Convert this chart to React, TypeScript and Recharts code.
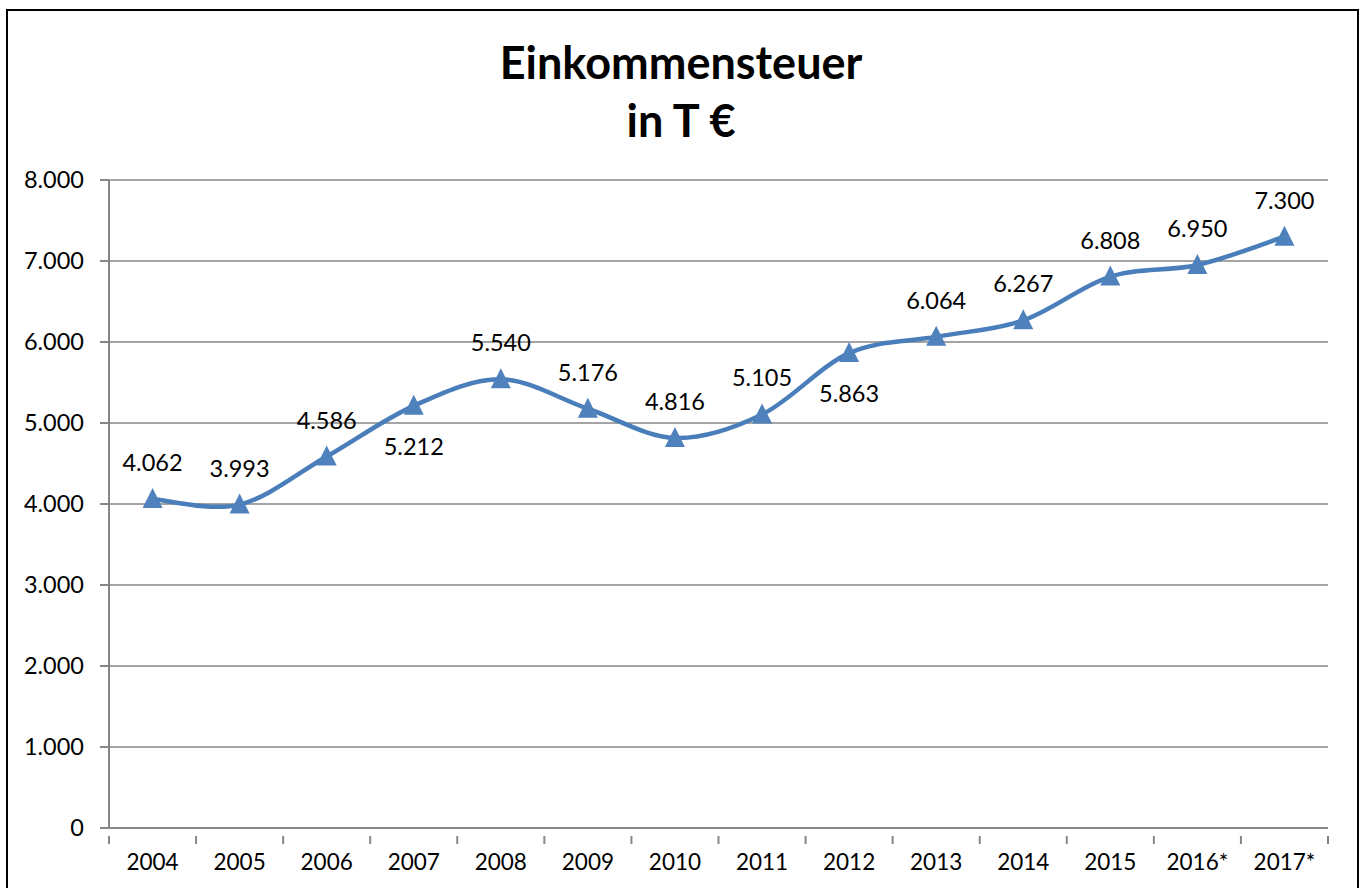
import * as React from "react";
import { LineChart, Line, XAxis, YAxis, CartesianGrid, LabelList } from "recharts";

const years = ["2004", "2005", "2006", "2007", "2008", "2009", "2010", "2011", "2012", "2013", "2014", "2015", "2016*", "2017*"];
const incomeTax = [4062, 3993, 4586, 5212, 5540, 5176, 4816, 5105, 5863, 6064, 6267, 6808, 6950, 7300];
const yTicks = [0, 1000, 2000, 3000, 4000, 5000, 6000, 7000, 8000];
// labels Excel placed under the point
const labelsBelow = [3, 8];

const data = years.map((year, idx) => ({ idx, year, value: incomeTax[idx] }));

const FONT = "Lato, 'Open Sans', sans-serif";
const LINE_COLOR = "#4A7EBB";
const MARKER_COLOR = "#4F81BD";
const GRID_COLOR = "#868686";

const fmt = (v: number) => String(Math.round(v)).replace(/\B(?=(\d{3})+(?!\d))/g, ".");

// Excel-style smoothing (Catmull-Rom as cubic beziers)
function excelSmooth(context: any) {
    let pts: [number, number][] = [];
    return {
        areaStart() {},
        areaEnd() {},
        lineStart() {
            pts = [];
        },
        point(x: number, y: number) {
            pts.push([+x, +y]);
        },
        lineEnd() {
            if (!pts.length) return;
            context.moveTo(pts[0][0], pts[0][1]);
            for (let i = 0; i < pts.length - 1; i++) {
                const p0 = pts[i - 1] || pts[i];
                const p1 = pts[i];
                const p2 = pts[i + 1];
                const p3 = pts[i + 2] || pts[i + 1];
                context.bezierCurveTo(
                    p1[0] + (p2[0] - p0[0]) / 6,
                    p1[1] + (p2[1] - p0[1]) / 6,
                    p2[0] - (p3[0] - p1[0]) / 6,
                    p2[1] - (p3[1] - p1[1]) / 6,
                    p2[0],
                    p2[1]
                );
            }
        },
    };
}

const TriangleDot = (props: any) => {
    const { cx, cy, index } = props;
    if (cx == null || cy == null) return null;
    return (
        <polygon
            key={`tri-${index}`}
            points={`${cx},${cy - 11} ${cx - 10},${cy + 9} ${cx + 10},${cy + 9}`}
            fill={MARKER_COLOR}
        />
    );
};

const ValueLabel = (props: any) => {
    const { x, y, value, index } = props;
    const below = labelsBelow.includes(index);
    return (
        <text
            x={x}
            y={below ? y + 40 : y - 37}
            textAnchor="middle"
            dominantBaseline="central"
            fontFamily={FONT}
            fontSize={23.5}
            fill="#000"
        >
            {fmt(value)}
        </text>
    );
};

const XTick = (props: any) => {
    const { x, y, payload } = props;
    const v = payload.value as number;
    if (Number.isInteger(v)) {
        return (
            <text x={x} y={y + 25} textAnchor="middle" dominantBaseline="central" fontFamily={FONT} fontSize={22.5} fill="#000">
                {years[v]}
            </text>
        );
    }
    return <line x1={x} x2={x} y1={y} y2={y + 8} stroke={GRID_COLOR} strokeWidth={2} />;
};

const xTicks = [...years.map((_, i) => i - 0.5), years.length - 0.5, ...years.map((_, i) => i)];

export default function App() {
    return (
        <div style={{ position: "absolute", left: 0, top: 0, width: 1362, height: 888, overflow: "hidden", background: "#fff" }}>
            <div
                style={{
                    position: "absolute",
                    left: 6,
                    top: 9,
                    width: 1349,
                    height: 900,
                    border: "2px solid #000",
                }}
            />
            <div
                style={{
                    position: "absolute",
                    left: 0,
                    top: 33,
                    width: 1362,
                    textAlign: "center",
                    fontFamily: FONT,
                    fontWeight: 700,
                    fontSize: 45,
                    lineHeight: "58px",
                    color: "#000",
                }}
            >
                <div>Einkommensteuer</div>
                <div>in T €</div>
            </div>
            <div style={{ position: "absolute", left: 0, top: 0 }}>
                <LineChart width={1362} height={888} data={data} margin={{ top: 180, right: 34, left: 0, bottom: 0 }}>
                    <CartesianGrid vertical={false} stroke={GRID_COLOR} strokeWidth={1.5} />
                    <XAxis
                        dataKey="idx"
                        type="number"
                        domain={[-0.5, years.length - 0.5]}
                        ticks={xTicks}
                        interval={0}
                        height={60}
                        tickLine={false}
                        axisLine={{ stroke: GRID_COLOR, strokeWidth: 2 }}
                        tick={<XTick />}
                    />
                    <YAxis
                        domain={[0, 8000]}
                        ticks={yTicks}
                        width={109}
                        tickSize={9}
                        tickMargin={16}
                        tickLine={{ stroke: GRID_COLOR, strokeWidth: 2 }}
                        axisLine={{ stroke: GRID_COLOR, strokeWidth: 2 }}
                        tickFormatter={fmt}
                        tick={{ fontFamily: FONT, fontSize: 23.5, fill: "#000" }}
                    />
                    <Line
                        dataKey="value"
                        type={excelSmooth as any}
                        stroke={LINE_COLOR}
                        strokeWidth={4.5}
                        dot={<TriangleDot />}
                        activeDot={false}
                        isAnimationActive={false}
                    >
                        <LabelList dataKey="value" content={<ValueLabel />} />
                    </Line>
                </LineChart>
            </div>
        </div>
    );
}
